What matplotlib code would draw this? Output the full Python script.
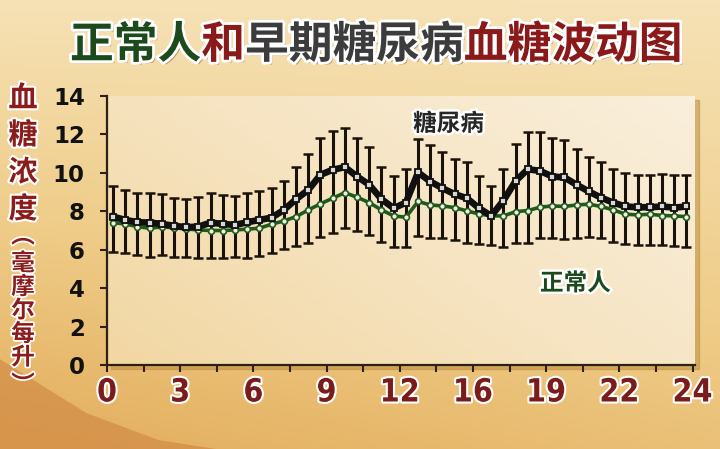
import numpy as np
import matplotlib
matplotlib.use('Agg')
import matplotlib.pyplot as plt
import matplotlib.patheffects as pe
from matplotlib.colors import LinearSegmentedColormap
from matplotlib.patches import Rectangle, Polygon

plt.rcParams['font.family'] = ['Noto Sans CJK SC', 'DejaVu Sans']

# half-hour samples over the day
hours = np.arange(0.25, 24, 0.5)

diabetes = [7.72, 7.55, 7.43, 7.41, 7.34, 7.24, 7.17, 7.20, 7.41, 7.34, 7.29, 7.43,
            7.55, 7.67, 8.07, 8.63, 9.11, 9.90, 10.16, 10.30, 9.81, 9.38, 8.63, 8.16,
            8.45, 10.02, 9.55, 9.20, 8.89, 8.68, 8.16, 7.76, 8.56, 9.58, 10.19, 10.10,
            9.81, 9.76, 9.38, 9.03, 8.71, 8.45, 8.25, 8.21, 8.21, 8.25, 8.19, 8.25]
normal = [7.41, 7.34, 7.20, 7.12, 7.19, 7.14, 7.08, 7.03, 7.00, 7.00, 7.03, 7.07,
          7.12, 7.33, 7.50, 7.72, 8.07, 8.39, 8.68, 8.97, 8.73, 8.45, 8.07, 7.76,
          7.69, 8.51, 8.33, 8.28, 8.19, 8.02, 7.86, 7.76, 7.76, 7.98, 8.04, 8.21,
          8.28, 8.25, 8.33, 8.37, 8.25, 8.07, 7.85, 7.81, 7.85, 7.78, 7.76, 7.72]
err_top = [9.32, 9.10, 8.97, 8.94, 8.89, 8.71, 8.65, 8.73, 8.94, 8.85, 8.80, 8.94,
           9.03, 9.23, 9.60, 10.33, 10.97, 11.84, 12.19, 12.36, 11.81, 11.32, 10.33, 9.84,
           10.19, 11.75, 11.46, 11.11, 10.71, 10.54, 9.84, 9.32, 10.19, 11.51, 12.15, 12.15,
           11.81, 11.72, 11.25, 10.85, 10.54, 10.19, 9.98, 9.90, 9.90, 9.93, 9.90, 9.90]
err_bot = [5.90, 5.82, 5.73, 5.64, 5.73, 5.64, 5.64, 5.59, 5.59, 5.56, 5.64, 5.59,
           5.69, 5.82, 6.03, 6.20, 6.37, 6.68, 6.89, 7.12, 7.00, 6.77, 6.42, 6.16,
           6.16, 6.72, 6.63, 6.60, 6.51, 6.34, 6.29, 6.25, 6.16, 6.34, 6.37, 6.60,
           6.60, 6.55, 6.60, 6.68, 6.60, 6.42, 6.29, 6.25, 6.25, 6.25, 6.20, 6.16]

xtick_pos = [0, 3, 6, 9, 12, 15, 18, 21, 24]
xtick_labels = ['0', '3', '6', '9', '12', '16', '19', '22', '24']
ytick_pos = [0, 2, 4, 6, 8, 10, 12, 14]

title_parts = [('正常人', '#1d4a1d'), ('和', '#8a1a1a'), ('早期糖尿病', '#3c3c3c'), ('血糖波动图', '#8a1a1a')]

diabetes = np.array(diabetes)
normal = np.array(normal)
err_top = np.array(err_top)
err_bot = np.array(err_bot)

W, H = 720, 449
fig = plt.figure(figsize=(7.2, 4.49), dpi=100)

# background gradient
bg = fig.add_axes([0, 0, 1, 1], zorder=-10)
bg.set_axis_off()
yy, xx = np.mgrid[0:1:200j, 0:1:300j]
t = 0.55 * yy + 0.25 * (1 - xx) * yy
bg_cmap = LinearSegmentedColormap.from_list('bg', ['#f6e2b6', '#efcc88', '#e3ad5c'])
bg.imshow(t, cmap=bg_cmap, extent=[0, 1, 0, 1], aspect='auto', vmin=0, vmax=0.8, origin='upper')
swoosh = Polygon([[0, 0], [0, 0.2], [0.05, 0.15], [0.12, 0.08], [0.22, 0.02], [0.3, 0]],
                 closed=True, color='#cf8440', alpha=0.6, lw=0)
bg.add_patch(swoosh)
bg.set_xlim(0, 1)
bg.set_ylim(0, 1)

# plot panel
L, R, T, B = 107, 695, 96, 365
rect = [L / W, 1 - B / H, (R - L) / W, (B - T) / H]
shadow = Rectangle((rect[0] + 4 / W, rect[1] - 4 / H), rect[2], rect[3],
                   transform=fig.transFigure, color='#b98a3e', alpha=0.5, zorder=-5)
fig.patches.append(shadow)

ax = fig.add_axes(rect)
panel_cmap = LinearSegmentedColormap.from_list('panel', ['#f2d7a3', '#f6e4c2', '#faefdc'])
px, py = np.mgrid[0:1:50j, 0:1:100j]
ax.imshow(0.6 * py + 0.4 * (1 - px), cmap=panel_cmap, extent=[0, 24.1, 0, 14],
          aspect='auto', origin='upper', zorder=0)

yerr = [diabetes - err_bot, err_top - diabetes]
ax.errorbar(hours, diabetes, yerr=yerr, fmt='none', ecolor='#1a120a', elinewidth=2.2,
            capsize=3.5, capthick=1.8, zorder=2)
ax.plot(hours, normal, color='#1e5a1e', lw=2.6, marker='o', ms=4.2,
        mfc='#f3efdc', mec='#1e5a1e', mew=1.2, zorder=3)
ax.plot(hours, diabetes, color='#101010', lw=4.8, marker='s', ms=4.2,
        mfc='#d8d8d0', mec='#101010', mew=1.3, zorder=4)

ax.set_xlim(0, 24.1)
ax.set_ylim(0, 14)
for s in ['top', 'right']:
    ax.spines[s].set_visible(False)
for s in ['left', 'bottom']:
    ax.spines[s].set_color('#2e2014')
    ax.spines[s].set_linewidth(1.6)

ax.set_yticks(ytick_pos)
ax.set_yticklabels([str(v) for v in ytick_pos])
ax.set_xticks(xtick_pos)
ax.set_xticklabels(xtick_labels)
ax.set_xticks([1.5, 4.5, 7.5, 10.5, 13.5, 16.5, 19.5, 22.5], minor=True)
ax.tick_params(axis='y', direction='out', length=5, width=1.5, color='#2e2014', pad=11)
ax.tick_params(axis='x', which='both', direction='out', length=5, width=1.5, color='#2e2014', pad=4)
for lab in ax.get_yticklabels():
    lab.set_fontfamily('DejaVu Sans')
    lab.set_fontweight('heavy')
    lab.set_fontsize(16.5)
    lab.set_color('#111111')
for lab in ax.get_xticklabels():
    lab.set_fontfamily('DejaVu Sans')
    lab.set_fontstretch('condensed')
    lab.set_fontweight('bold')
    lab.set_fontsize(23)
    lab.set_color('#7a1c1c')
    lab.set_path_effects([pe.withStroke(linewidth=3, foreground='white')])

outline = [pe.withStroke(linewidth=3.5, foreground='white')]

ax.text(14.0, 12.55, '糖尿病', fontsize=17, fontweight='bold', color='#262626',
        ha='center', va='center', path_effects=outline, zorder=6)
ax.text(19.2, 4.25, '正常人', fontsize=17, fontweight='bold', color='#1d4a1d',
        ha='center', va='center', path_effects=outline, zorder=6)

# title, coloured piece by piece
tsize = 31.5
em = tsize * 100 / 72 / W
x0 = 70 / W
title_fx = [pe.withSimplePatchShadow(offset=(2, -2), shadow_rgbFace='#7a5a2a', alpha=0.5),
            pe.withStroke(linewidth=4, foreground='white')]
for txt, col in title_parts:
    fig.text(x0, 1 - 45 / H, txt, fontsize=tsize, fontweight='bold', color=col,
             ha='left', va='center', path_effects=title_fx)
    x0 += em * len(txt)

# y-axis label, vertical
for i, ch in enumerate('血糖浓度'):
    fig.text(23 / W, 1 - (98 + 37 * i) / H, ch, fontsize=21, fontweight='bold',
             color='#8a1c1c', ha='center', va='center',
             path_effects=[pe.withStroke(linewidth=3, foreground='white')])
for i, ch in enumerate('︵毫摩尔每升︶'):
    fig.text(23 / W, 1 - (236 + 23.5 * i + (4 if 0 < i < 6 else 0) + (8 if i == 6 else 0)) / H, ch,
             fontsize=17, fontweight='bold', color='#8a1c1c', ha='center', va='center',
             path_effects=[pe.withStroke(linewidth=2.5, foreground='white')])

fig.savefig('out.png', dpi=100)
